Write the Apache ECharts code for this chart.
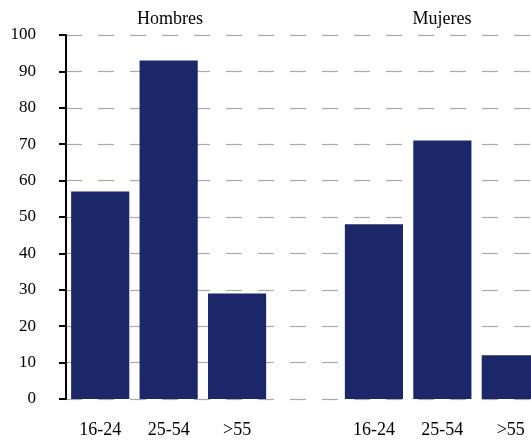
<!DOCTYPE html>
<html>
<head>
<meta charset="utf-8">
<script src="https://cdn.jsdelivr.net/npm/echarts@6/dist/echarts.min.js"></script>
<style>html,body{margin:0;padding:0;background:#fff}#c{width:531px;height:440px}</style>
</head>
<body>
<div id="c"></div>
<script>
var groupTitles = ['Hombres', 'Mujeres'];
var ageGroups = ['16-24', '25-54', '>55'];
var hombres = [57, 93, 29];
var mujeres = [48, 71, 12];
var yTicks = [0, 10, 20, 30, 40, 50, 60, 70, 80, 90, 100];

var categories = ageGroups.concat(['']).concat(ageGroups);
var values = hombres.concat(['-']).concat(mujeres);
var font = 'Liberation Serif, Times New Roman, serif';

var chart = echarts.init(document.getElementById('c'));
chart.setOption({
  animation: false,
  backgroundColor: '#fff',
  title: [
    { text: groupTitles[0], left: 165, top: 5, textAlign: 'center',
      textStyle: { fontFamily: font, fontSize: 18, fontWeight: 'normal', color: '#000' } },
    { text: groupTitles[1], left: 437, top: 5, textAlign: 'center',
      textStyle: { fontFamily: font, fontSize: 18, fontWeight: 'normal', color: '#000' } }
  ],
  grid: { left: 66, width: 479, top: 35, bottom: 41, containLabel: false, outerBoundsMode: 'none' },
  xAxis: {
    type: 'category',
    data: categories,
    axisLine: { show: false },
    axisTick: { show: false },
    axisLabel: { margin: 22, fontFamily: font, fontSize: 18, color: '#000' }
  },
  yAxis: {
    type: 'value',
    min: yTicks[0],
    max: yTicks[yTicks.length - 1],
    interval: 10,
    axisLine: { show: true, lineStyle: { color: '#000', width: 2 } },
    axisTick: { show: true, length: 7, lineStyle: { color: '#000', width: 2 } },
    axisLabel: { margin: 30, fontFamily: font, fontSize: 17, color: '#000' },
    splitLine: { show: true, lineStyle: { color: '#aaa', width: 1.2, type: [16, 16] } }
  },
  series: [{
    type: 'bar',
    data: values,
    barCategoryGap: '15%',
    itemStyle: { color: '#1b2768' }
  }]
});
</script>
</body>
</html>
